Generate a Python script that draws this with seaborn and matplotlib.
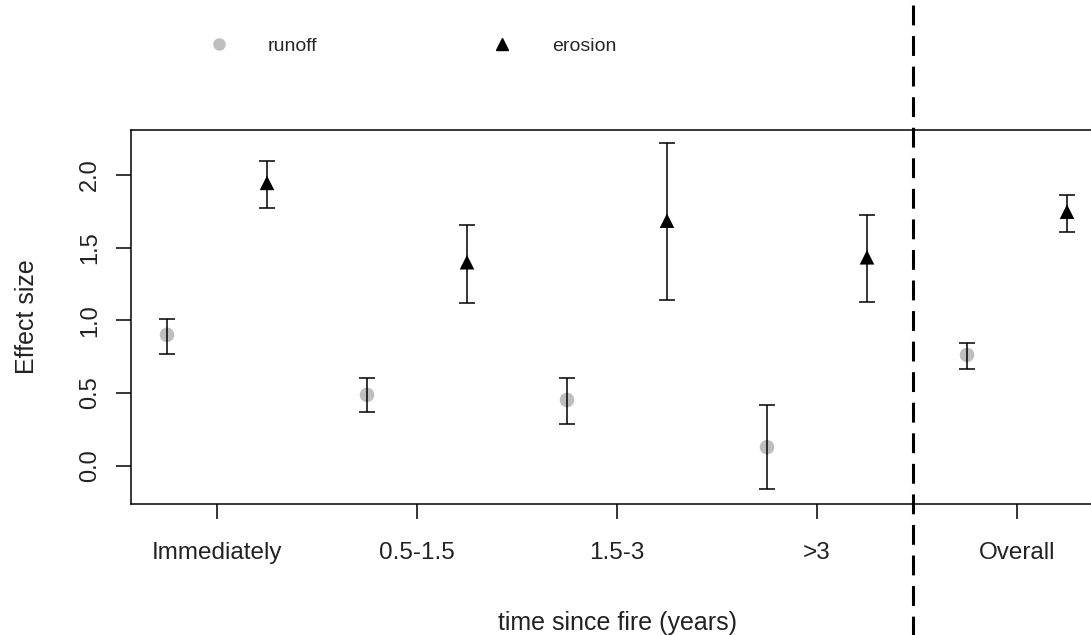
import numpy as np
import pandas as pd
import matplotlib
matplotlib.use("Agg")
import matplotlib.pyplot as plt
from matplotlib.lines import Line2D
import seaborn as sns

# ---- data ----
categories = ["Immediately", "0.5-1.5", "1.5-3", ">3", "Overall"]
runoff_mean = [0.90, 0.487, 0.452, 0.127, 0.762]
runoff_lo = [0.77, 0.367, 0.29, -0.16, 0.666]
runoff_hi = [1.01, 0.60, 0.60, 0.415, 0.842]
erosion_mean = [1.946, 1.40, 1.686, 1.434, 1.748]
erosion_lo = [1.77, 1.118, 1.14, 1.129, 1.61]
erosion_hi = [2.10, 1.657, 2.219, 1.725, 1.863]
y_ticks = [0.0, 0.5, 1.0, 1.5, 2.0]
y_tick_labels = ["0.0", "0.5", "1.0", "1.5", "2.0"]

sns.set_theme(style="ticks")
plt.rcParams["font.family"] = ["Liberation Sans", "DejaVu Sans"]

pos = np.arange(1, len(categories) + 1)
df = pd.concat([
    pd.DataFrame({"x": pos - 0.25, "y": runoff_mean, "lo": runoff_lo,
                  "hi": runoff_hi, "series": "runoff"}),
    pd.DataFrame({"x": pos + 0.25, "y": erosion_mean, "lo": erosion_lo,
                  "hi": erosion_hi, "series": "erosion"}),
], ignore_index=True)

W, H = 1091, 635
fig = plt.figure(figsize=(W / 100, H / 100), dpi=100)
left, right, top, bottom = 131, 1103, 130, 504
ax = fig.add_axes([left / W, (H - bottom) / H, (right - left) / W, (bottom - top) / H])

gray = "#BEBEBE"
sns.scatterplot(data=df, x="x", y="y", hue="series", style="series",
                palette={"runoff": gray, "erosion": "black"},
                markers={"runoff": "o", "erosion": "^"},
                s=110, linewidth=0, legend=False, ax=ax, zorder=2)

for _, r in df.iterrows():
    ax.errorbar(r["x"], r["y"], yerr=[[r["y"] - r["lo"]], [r["hi"] - r["y"]]],
                fmt="none", ecolor="black", elinewidth=1.1, capsize=5.8,
                capthick=1.1, zorder=3)

ax.set_xlim(0.57, 5.43)
ax.set_ylim(-0.264, 2.31)
ax.set_xticks(pos)
ax.set_xticklabels(categories, fontsize=17.5)
ax.set_yticks(y_ticks)
ax.set_yticklabels(y_tick_labels, fontsize=17, rotation=90, va="center")
ax.tick_params(axis="both", length=10.5, width=1.1, color="black",
               labelcolor="#222222", direction="out")
ax.tick_params(axis="x", pad=17)
ax.tick_params(axis="y", pad=11)
for sp in ax.spines.values():
    sp.set_visible(True)
    sp.set_linewidth(1.1)
    sp.set_color("black")

ax.set_xlabel("time since fire (years)", fontsize=18, color="#222222", labelpad=34)
ax.set_ylabel("Effect size", fontsize=18, color="#222222", labelpad=29)

ax.axvline(4.48, ymin=-0.36, ymax=1.36, clip_on=False, color="black",
           linewidth=2.2, dashes=(6.5, 3.5), zorder=4)

handles = [
    Line2D([], [], linestyle="none", marker="o", color=gray, markersize=8),
    Line2D([], [], linestyle="none", marker="^", color="black", markersize=9),
]
fig.legend(handles, ["runoff", "erosion"], ncol=2, frameon=False,
           loc="center left", bbox_to_anchor=(209 / W, 1 - 46 / H),
           fontsize=14, handlelength=1.0, handletextpad=2.04,
           columnspacing=9.0, borderpad=0, borderaxespad=0)

fig.savefig("out.png", dpi=100)
